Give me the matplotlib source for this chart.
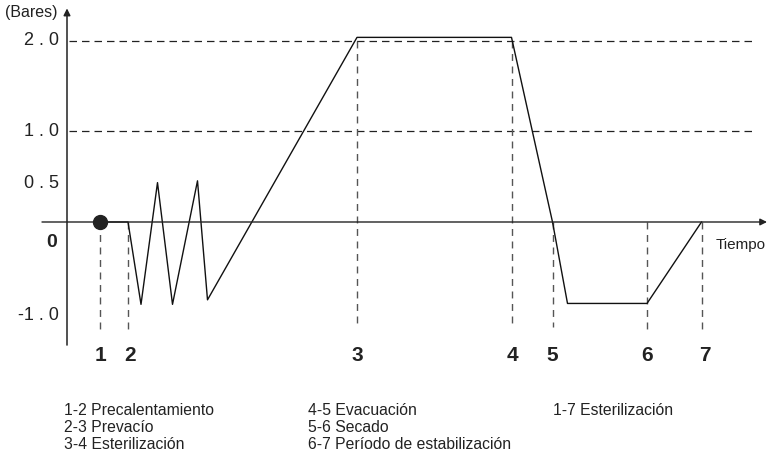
import matplotlib
matplotlib.use('Agg')
import matplotlib.pyplot as plt

# datos (tiempo en unidades arbitrarias, presión en bares)
tiempo = [33, 61, 74, 90.5, 105.5, 130.5, 140.5, 290, 444.5, 485.5, 500.5, 580, 634.5]
presion = [0, 0, -0.91, 0.435, -0.91, 0.455, -0.86, 2.04, 2.04, 0, -0.90, -0.90, 0]

# puntos del ciclo (1..7)
etapas = ['1', '2', '3', '4', '5', '6', '7']
t_etapas = [33, 61, 290, 444.5, 485.5, 580, 634.5]
p_arriba = [0, 0, 2.0, 2.0, 0, 0, 0]   # desde dónde baja la línea discontinua

# niveles de referencia
niveles = [2.0, 1.0]
etiquetas_y = ['2 . 0', '1 . 0', '0 . 5', '-1 . 0']
valores_y = [2.0, 1.0, 0.5, -1.0]

leyenda = [
    ['1-2 Precalentamiento', '2-3 Prevacío', '3-4 Esterilización'],
    ['4-5 Evacuación', '5-6 Secado', '6-7 Período de estabilización'],
    ['1-7 Esterilización'],
]

plt.rcParams['font.family'] = ['Liberation Sans', 'DejaVu Sans']

fig = plt.figure(figsize=(7.7, 4.63), dpi=100)
ax = fig.add_axes([0, 0, 1, 1])
ax.set_xlim(-67, 703)
ax.set_ylim(-2.663, 2.453)
ax.axis('off')

# ejes con flecha
ax.annotate('', xy=(0, 2.36), xytext=(0, -1.36),
            arrowprops=dict(arrowstyle='-|>', color='#222', lw=1.1,
                            mutation_scale=10, shrinkA=0, shrinkB=0))
ax.annotate('', xy=(700, 0), xytext=(-25, 0),
            arrowprops=dict(arrowstyle='-|>', color='#222', lw=1.0,
                            mutation_scale=10, shrinkA=0, shrinkB=0))

# líneas discontinuas horizontales
for nv in niveles:
    ax.plot([2, 688], [nv, nv], color='#222', lw=0.9, dashes=(6, 4))

# líneas discontinuas verticales
fondos = [-1.19, -1.19, -1.15, -1.13, -1.16, -1.21, -1.21]
for t, top, bot in zip(t_etapas, p_arriba, fondos):
    ax.plot([t, t], [top, bot], color='#555', lw=1.0, dashes=(5, 4))

# curva de presión
ax.plot(tiempo, presion, color='#111', lw=1.0)
ax.plot([tiempo[0]], [presion[0]], 'o', color='#222', ms=10)

# etiquetas del eje Y
for lab, v in zip(etiquetas_y, valores_y):
    yy = v
    if v == 0.5:
        yy = 0.43
    if v == -1.0:
        yy = -1.03
    ax.text(-8, yy, lab, ha='right', va='center', fontsize=13, color='#222')
ax.text(-15, -0.23, '0', ha='center', va='center', fontsize=14,
        fontweight='bold', color='#222')
ax.text(-62, 2.32, '(Bares)', ha='left', va='center', fontsize=11.5, color='#222')
ax.text(649, -0.25, 'Tiempo', ha='left', va='center', fontsize=11, color='#222')

# números de etapa
desp = [0, 2, 0, 1, 0, 0, 3]
for lab, t, d in zip(etapas, t_etapas, desp):
    ax.text(t + d, -1.47, lab, ha='center', va='center', fontsize=15,
            fontweight='bold', color='#222')

# leyenda inferior
col_x = [-3, 241, 486]
fil_y = [-2.088, -2.276, -2.464]
for cx, col in zip(col_x, leyenda):
    for fy, txt in zip(fil_y, col):
        ax.text(cx, fy, txt, ha='left', va='center', fontsize=11.3, color='#222')

fig.savefig('out.png', dpi=100)
